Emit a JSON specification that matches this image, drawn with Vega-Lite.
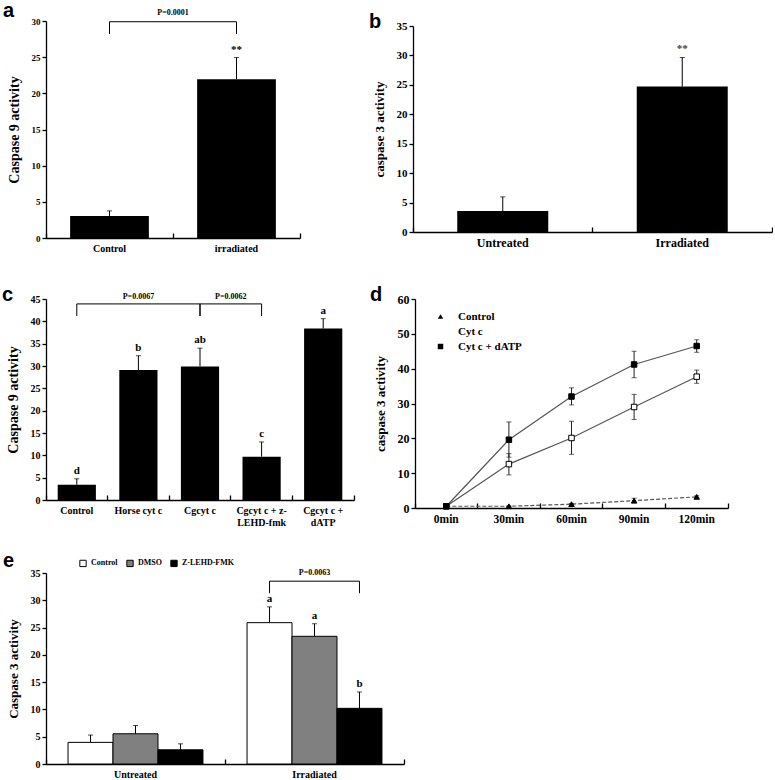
{
  "$schema": "https://vega.github.io/schema/vega-lite/v6.json",
  "background": "white",
  "padding": {"left": 2, "top": 0, "right": 0, "bottom": 0},
  "spacing": 24,
  "resolve": {"scale": {"fill": "independent", "shape": "independent", "strokeDash": "independent"}, "legend": {"fill": "independent", "shape": "independent"}},
  "config": {
    "view": {"stroke": null},
    "axis": {"labelFont": "Liberation Serif", "titleFont": "Liberation Serif", "labelFontWeight": "bold", "titleFontWeight": "bold", "labelColor": "#000", "titleColor": "#000", "domainColor": "#000", "tickColor": "#000", "grid": false, "domainWidth": 1.3, "tickWidth": 1.3},
    "axisY": {"tickSize": 4, "labelPadding": 2, "titlePadding": 10},
    "axisX": {"labelAngle": 0},
    "title": {"font": "Liberation Sans", "fontWeight": "bold", "fontSize": 20, "anchor": "start", "frame": "bounds", "color": "#000", "offset": -12},
    "legend": {"labelFont": "Liberation Serif", "labelFontWeight": "bold", "labelColor": "#000"}
  },
  "datasets": {
    "a": [
      {"group": "Control", "value": 3.05, "upper": 3.75, "label": ""},
      {"group": "irradiated", "value": 21.95, "upper": 24.95, "label": "**"}
    ],
    "aBracket": [
      {"group": "Control", "y": 28.2, "o": 1},
      {"group": "Control", "y": 29.9, "o": 2},
      {"group": "irradiated", "y": 29.9, "o": 3},
      {"group": "irradiated", "y": 28.2, "o": 4}
    ],
    "aP": [{"group": "Control", "y": 30.6, "text": "P=0.0001"}],
    "b": [
      {"group": "Untreated", "value": 3.55, "upper": 5.97, "label": ""},
      {"group": "Irradiated", "value": 24.7, "upper": 29.65, "label": "**"}
    ],
    "c": [
      {"group": "Control", "value": 3.4, "upper": 4.75, "label": "d"},
      {"group": "Horse cyt c", "value": 29.1, "upper": 32.3, "label": "b"},
      {"group": "Cgcyt c", "value": 29.9, "upper": 34.0, "label": "ab"},
      {"group": "Cgcyt c + z-\nLEHD-fmk", "value": 9.7, "upper": 13.0, "label": "c"},
      {"group": "Cgcyt c +\ndATP", "value": 38.4, "upper": 40.6, "label": "a"}
    ],
    "cBracket": [
      {"id": 1, "group": "Control", "y": 41.2, "o": 1},
      {"id": 1, "group": "Control", "y": 43.9, "o": 2},
      {"id": 1, "group": "Cgcyt c", "y": 43.9, "o": 3},
      {"id": 1, "group": "Cgcyt c", "y": 41.2, "o": 4},
      {"id": 2, "group": "Cgcyt c", "y": 41.2, "o": 1},
      {"id": 2, "group": "Cgcyt c", "y": 43.9, "o": 2},
      {"id": 2, "group": "Cgcyt c + z-\nLEHD-fmk", "y": 43.9, "o": 3},
      {"id": 2, "group": "Cgcyt c + z-\nLEHD-fmk", "y": 41.2, "o": 4}
    ],
    "cP1": [{"group": "Horse cyt c", "y": 44.6, "text": "P=0.0067"}],
    "cP2": [{"group": "Cgcyt c", "y": 44.6, "text": "P=0.0062"}],
    "d": [
      {"time": "0min", "series": "Control", "value": 0.5, "lo": 0.5, "hi": 0.5},
      {"time": "30min", "series": "Control", "value": 0.5, "lo": 0.4, "hi": 0.6},
      {"time": "60min", "series": "Control", "value": 1.1, "lo": 0.9, "hi": 1.3},
      {"time": "90min", "series": "Control", "value": 2.1, "lo": 1.5, "hi": 2.8},
      {"time": "120min", "series": "Control", "value": 3.2, "lo": 3.0, "hi": 3.5},
      {"time": "0min", "series": "Cyt c", "value": 0.5, "lo": 0.5, "hi": 0.5},
      {"time": "30min", "series": "Cyt c", "value": 12.6, "lo": 9.5, "hi": 15.6},
      {"time": "60min", "series": "Cyt c", "value": 20.1, "lo": 15.4, "hi": 24.9},
      {"time": "90min", "series": "Cyt c", "value": 29.0, "lo": 25.4, "hi": 32.6},
      {"time": "120min", "series": "Cyt c", "value": 37.7, "lo": 35.8, "hi": 39.6},
      {"time": "0min", "series": "Cyt c + dATP", "value": 0.5, "lo": 0.5, "hi": 0.5},
      {"time": "30min", "series": "Cyt c + dATP", "value": 19.6, "lo": 14.6, "hi": 24.7},
      {"time": "60min", "series": "Cyt c + dATP", "value": 32.0, "lo": 29.6, "hi": 34.5},
      {"time": "90min", "series": "Cyt c + dATP", "value": 41.2, "lo": 37.4, "hi": 45.0},
      {"time": "120min", "series": "Cyt c + dATP", "value": 46.5, "lo": 44.7, "hi": 48.3}
    ],
    "e": [
      {"cond": "Untreated", "treat": "Control", "value": 3.96, "upper": 5.3, "label": ""},
      {"cond": "Untreated", "treat": "DMSO", "value": 5.54, "upper": 7.06, "label": ""},
      {"cond": "Untreated", "treat": "Z-LEHD-FMK", "value": 2.6, "upper": 3.7, "label": ""},
      {"cond": "Irradiated", "treat": "Control", "value": 25.9, "upper": 28.8, "label": "a"},
      {"cond": "Irradiated", "treat": "DMSO", "value": 23.4, "upper": 25.7, "label": "a"},
      {"cond": "Irradiated", "treat": "Z-LEHD-FMK", "value": 10.2, "upper": 13.2, "label": "b"}
    ],
    "eBracket": [
      {"cond": "Irradiated", "treat": "Control", "y": 31.3, "o": 1},
      {"cond": "Irradiated", "treat": "Control", "y": 33.5, "o": 2},
      {"cond": "Irradiated", "treat": "Z-LEHD-FMK", "y": 33.5, "o": 3},
      {"cond": "Irradiated", "treat": "Z-LEHD-FMK", "y": 31.3, "o": 4}
    ],
    "eP": [{"cond": "Irradiated", "treat": "DMSO", "y": 34.2, "text": "P=0.0063"}]
  },
  "vconcat": [
    {
      "vconcat": [
        {
          "hconcat": [
            {
              "width": 254, "height": 217,
              "title": {"text": "a", "dx": -4},
              "data": {"name": "a"},
              "encoding": {
                "x": {"field": "group", "type": "nominal", "scale": {"domain": ["Control", "irradiated"], "paddingInner": 0, "paddingOuter": 0},
                  "axis": {"title": null, "labelFontSize": 10, "tickSize": -5, "bandPosition": 1, "tickExtra": true, "labelPadding": 10}}
              },
              "layer": [
                {"mark": {"type": "bar", "fill": "black", "width": {"band": 0.62}},
                 "encoding": {"y": {"field": "value", "type": "quantitative", "scale": {"domain": [0, 30], "nice": false},
                   "axis": {"title": "Caspase 9 activity", "values": [0, 5, 10, 15, 20, 25, 30], "titleFontSize": 14, "labelFontSize": 9}}}},
                {"mark": {"type": "rule", "color": "black", "strokeWidth": 1}, "encoding": {"y": {"field": "value", "type": "quantitative", "axis": {"title": "Caspase 9 activity", "values": [0, 5, 10, 15, 20, 25, 30], "titleFontSize": 14, "labelFontSize": 9}}, "y2": {"field": "upper"}}},
                {"mark": {"type": "tick", "color": "black", "size": 5, "thickness": 1}, "encoding": {"y": {"field": "upper", "type": "quantitative", "axis": {"title": "Caspase 9 activity", "values": [0, 5, 10, 15, 20, 25, 30], "titleFontSize": 14, "labelFontSize": 9}}}},
                {"mark": {"type": "text", "font": "Liberation Serif", "fontWeight": "bold", "fontSize": 11, "baseline": "bottom", "dy": -3},
                 "encoding": {"y": {"field": "upper", "type": "quantitative", "axis": {"title": "Caspase 9 activity", "values": [0, 5, 10, 15, 20, 25, 30], "titleFontSize": 14, "labelFontSize": 9}}, "text": {"field": "label"}}},
                {"data": {"name": "aBracket"}, "mark": {"type": "line", "color": "black", "strokeWidth": 1},
                 "encoding": {"y": {"field": "y", "type": "quantitative", "axis": {"title": "Caspase 9 activity", "values": [0, 5, 10, 15, 20, 25, 30], "titleFontSize": 14, "labelFontSize": 9}}, "order": {"field": "o"}}},
                {"data": {"name": "aP"}, "mark": {"type": "text", "font": "Liberation Serif", "fontWeight": "bold", "fontSize": 8, "baseline": "bottom"},
                 "encoding": {"x": {"field": "group", "type": "nominal", "bandPosition": 1}, "y": {"field": "y", "type": "quantitative", "axis": {"title": "Caspase 9 activity", "values": [0, 5, 10, 15, 20, 25, 30], "titleFontSize": 14, "labelFontSize": 9}}, "text": {"field": "text"}}}
              ]
            },
            {
              "width": 359, "height": 206,
              "title": {"text": "b", "dx": -4},
              "data": {"name": "b"},
              "encoding": {
                "x": {"field": "group", "type": "nominal", "scale": {"domain": ["Untreated", "Irradiated"], "paddingInner": 0, "paddingOuter": 0},
                  "axis": {"title": null, "labelFontSize": 12, "tickSize": -5, "bandPosition": 1, "tickExtra": true, "labelPadding": 10}}
              },
              "layer": [
                {"mark": {"type": "bar", "fill": "black", "width": {"band": 0.507}},
                 "encoding": {"y": {"field": "value", "type": "quantitative", "scale": {"domain": [0, 35], "nice": false},
                   "axis": {"title": "caspase 3 activity", "values": [0, 5, 10, 15, 20, 25, 30, 35], "titleFontSize": 13, "labelFontSize": 11}}}},
                {"mark": {"type": "rule", "color": "black", "strokeWidth": 1}, "encoding": {"y": {"field": "value", "type": "quantitative", "axis": {"title": "caspase 3 activity", "values": [0, 5, 10, 15, 20, 25, 30, 35], "titleFontSize": 13, "labelFontSize": 11}}, "y2": {"field": "upper"}}},
                {"mark": {"type": "tick", "color": "black", "size": 5, "thickness": 1}, "encoding": {"y": {"field": "upper", "type": "quantitative", "axis": {"title": "caspase 3 activity", "values": [0, 5, 10, 15, 20, 25, 30, 35], "titleFontSize": 13, "labelFontSize": 11}}}},
                {"mark": {"type": "text", "font": "Liberation Serif", "fontWeight": "bold", "fontSize": 11, "baseline": "bottom", "dy": -3, "color": "#444"},
                 "encoding": {"y": {"field": "upper", "type": "quantitative", "axis": {"title": "caspase 3 activity", "values": [0, 5, 10, 15, 20, 25, 30, 35], "titleFontSize": 13, "labelFontSize": 11}}, "text": {"field": "label"}}}
              ]
            }
          ],
          "spacing": 68, "center": true,
          "resolve": {"scale": {"fill": "independent", "shape": "independent", "strokeDash": "independent"}, "legend": {"fill": "independent", "shape": "independent"}}
        },
        {
          "hconcat": [
            {
              "width": 308, "height": 201,
              "title": {"text": "c", "dx": -4},
              "data": {"name": "c"},
              "encoding": {
                "x": {"field": "group", "type": "nominal", "scale": {"domain": ["Control", "Horse cyt c", "Cgcyt c", "Cgcyt c + z-\nLEHD-fmk", "Cgcyt c +\ndATP"], "paddingInner": 0, "paddingOuter": 0},
                  "axis": {"title": null, "labelFontSize": 10, "tickSize": -5, "bandPosition": 1, "tickExtra": true, "labelPadding": 10, "labelExpr": "split(datum.label, '\\n')", "labelBaseline": "top"}}
              },
              "layer": [
                {"mark": {"type": "bar", "fill": "black", "width": {"band": 0.62}},
                 "encoding": {"y": {"field": "value", "type": "quantitative", "scale": {"domain": [0, 45], "nice": false},
                   "axis": {"title": "Caspase 9 activity", "values": [0, 5, 10, 15, 20, 25, 30, 35, 40, 45], "titleFontSize": 14, "labelFontSize": 10}}}},
                {"mark": {"type": "rule", "color": "black", "strokeWidth": 1}, "encoding": {"y": {"field": "value", "type": "quantitative", "axis": {"title": "Caspase 9 activity", "values": [0, 5, 10, 15, 20, 25, 30, 35, 40, 45], "titleFontSize": 14, "labelFontSize": 10}}, "y2": {"field": "upper"}}},
                {"mark": {"type": "tick", "color": "black", "size": 5, "thickness": 1}, "encoding": {"y": {"field": "upper", "type": "quantitative", "axis": {"title": "Caspase 9 activity", "values": [0, 5, 10, 15, 20, 25, 30, 35, 40, 45], "titleFontSize": 14, "labelFontSize": 10}}}},
                {"mark": {"type": "text", "font": "Liberation Serif", "fontWeight": "bold", "fontSize": 11, "baseline": "bottom", "dy": -3},
                 "encoding": {"y": {"field": "upper", "type": "quantitative", "axis": {"title": "Caspase 9 activity", "values": [0, 5, 10, 15, 20, 25, 30, 35, 40, 45], "titleFontSize": 14, "labelFontSize": 10}}, "text": {"field": "label"}}},
                {"data": {"name": "cBracket"}, "mark": {"type": "line", "color": "black", "strokeWidth": 1},
                 "encoding": {"y": {"field": "y", "type": "quantitative", "axis": {"title": "Caspase 9 activity", "values": [0, 5, 10, 15, 20, 25, 30, 35, 40, 45], "titleFontSize": 14, "labelFontSize": 10}}, "detail": {"field": "id"}, "order": {"field": "o"}}},
                {"data": {"name": "cP1"}, "mark": {"type": "text", "font": "Liberation Serif", "fontWeight": "bold", "fontSize": 8, "baseline": "bottom"},
                 "encoding": {"y": {"field": "y", "type": "quantitative", "axis": {"title": "Caspase 9 activity", "values": [0, 5, 10, 15, 20, 25, 30, 35, 40, 45], "titleFontSize": 14, "labelFontSize": 10}}, "text": {"field": "text"}}},
                {"data": {"name": "cP2"}, "mark": {"type": "text", "font": "Liberation Serif", "fontWeight": "bold", "fontSize": 8, "baseline": "bottom"},
                 "encoding": {"x": {"field": "group", "type": "nominal", "bandPosition": 1}, "y": {"field": "y", "type": "quantitative", "axis": {"title": "Caspase 9 activity", "values": [0, 5, 10, 15, 20, 25, 30, 35, 40, 45], "titleFontSize": 14, "labelFontSize": 10}}, "text": {"field": "text"}}}
              ]
            },
            {
              "width": 313, "height": 209,
              "title": {"text": "d", "dx": -4},
              "data": {"name": "d"},
              "encoding": {
                "x": {"field": "time", "type": "nominal", "scale": {"domain": ["0min", "30min", "60min", "90min", "120min"], "paddingInner": 0, "paddingOuter": 0},
                  "axis": {"title": null, "labelFontSize": 11.5, "tickSize": -5, "bandPosition": 1, "tickExtra": true, "labelPadding": 10}}
              },
              "layer": [
                {"transform": [{"filter": "datum.series == 'Control'"}],
                 "mark": {"type": "line", "color": "#555", "strokeWidth": 1.2, "strokeDash": [4, 2]},
                 "encoding": {"y": {"field": "value", "type": "quantitative", "scale": {"domain": [0, 60], "nice": false},
                   "axis": {"title": "caspase 3 activity", "values": [0, 10, 20, 30, 40, 50, 60], "titleFontSize": 13, "labelFontSize": 12}}}},
                {"transform": [{"filter": "datum.series != 'Control'"}],
                 "mark": {"type": "line", "color": "#555", "strokeWidth": 1.2},
                 "encoding": {"y": {"field": "value", "type": "quantitative", "axis": {"title": "caspase 3 activity", "values": [0, 10, 20, 30, 40, 50, 60], "titleFontSize": 13, "labelFontSize": 12}},
                   "detail": {"field": "series"}}},
                {"mark": {"type": "rule", "color": "#222", "strokeWidth": 1}, "encoding": {"y": {"field": "lo", "type": "quantitative", "axis": {"title": "caspase 3 activity", "values": [0, 10, 20, 30, 40, 50, 60], "titleFontSize": 13, "labelFontSize": 12}}, "y2": {"field": "hi"}}},
                {"mark": {"type": "tick", "color": "#222", "size": 5, "thickness": 1}, "encoding": {"y": {"field": "lo", "type": "quantitative", "axis": {"title": "caspase 3 activity", "values": [0, 10, 20, 30, 40, 50, 60], "titleFontSize": 13, "labelFontSize": 12}}}},
                {"mark": {"type": "tick", "color": "#222", "size": 5, "thickness": 1}, "encoding": {"y": {"field": "hi", "type": "quantitative", "axis": {"title": "caspase 3 activity", "values": [0, 10, 20, 30, 40, 50, 60], "titleFontSize": 13, "labelFontSize": 12}}}},
                {"mark": {"type": "point", "filled": false, "color": "black", "size": 30, "strokeWidth": 1, "opacity": 1},
                 "encoding": {"y": {"field": "value", "type": "quantitative", "axis": {"title": "caspase 3 activity", "values": [0, 10, 20, 30, 40, 50, 60], "titleFontSize": 13, "labelFontSize": 12}},
                   "shape": {"field": "series", "type": "nominal", "scale": {"domain": ["Control", "Cyt c", "Cyt c + dATP"], "range": ["triangle-up", "square", "square"]},
                     "legend": {"title": null, "orient": "none", "legendX": 20, "legendY": 12, "labelFontSize": 11, "labelOffset": 12, "symbolStrokeColor": "black", "symbolStrokeWidth": 1, "symbolSize": 30, "rowPadding": 3}},
                   "fill": {"field": "series", "type": "nominal", "scale": {"domain": ["Control", "Cyt c", "Cyt c + dATP"], "range": ["black", "white", "black"]},
                     "legend": {"title": null, "orient": "none", "legendX": 20, "legendY": 12, "labelFontSize": 11, "labelOffset": 12, "symbolStrokeColor": "black", "symbolStrokeWidth": 1, "symbolSize": 30, "rowPadding": 3}}}}
              ]
            }
          ],
          "spacing": 15,
          "resolve": {"scale": {"fill": "independent", "shape": "independent", "strokeDash": "independent"}, "legend": {"fill": "independent", "shape": "independent"}}
        }
      ],
      "spacing": 31,
      "resolve": {"scale": {"fill": "independent", "shape": "independent", "strokeDash": "independent"}, "legend": {"fill": "independent", "shape": "independent"}}
    },
    {
      "width": 358, "height": 191,
      "title": {"text": "e", "dx": -4},
      "data": {"name": "e"},
      "encoding": {
        "x": {"field": "cond", "type": "nominal", "scale": {"domain": ["Untreated", "Irradiated"], "paddingInner": 0, "paddingOuter": 0},
          "axis": {"title": null, "labelFontSize": 10, "tickSize": -5, "bandPosition": 1, "tickExtra": true, "labelPadding": 10}},
        "xOffset": {"field": "treat", "type": "nominal", "scale": {"domain": ["Control", "DMSO", "Z-LEHD-FMK"], "paddingInner": 0, "paddingOuter": 0.49}}
      },
      "layer": [
        {"mark": {"type": "bar", "stroke": "black", "strokeWidth": 1},
         "encoding": {"y": {"field": "value", "type": "quantitative", "scale": {"domain": [0, 35], "nice": false},
           "axis": {"title": "Caspase 3 activity", "values": [0, 5, 10, 15, 20, 25, 30, 35], "titleFontSize": 13, "labelFontSize": 10}},
           "fill": {"field": "treat", "type": "nominal", "scale": {"domain": ["Control", "DMSO", "Z-LEHD-FMK"], "range": ["white", "#808080", "black"]},
             "legend": {"title": null, "orient": "none", "legendX": 33, "legendY": -14, "direction": "horizontal", "symbolType": "square", "symbolStrokeColor": "black", "symbolStrokeWidth": 1, "symbolSize": 40, "labelFontSize": 8, "columnPadding": 6}}}},
        {"mark": {"type": "rule", "color": "black", "strokeWidth": 1}, "encoding": {"y": {"field": "value", "type": "quantitative", "axis": {"title": "Caspase 3 activity", "values": [0, 5, 10, 15, 20, 25, 30, 35], "titleFontSize": 13, "labelFontSize": 10}}, "y2": {"field": "upper"}}},
        {"mark": {"type": "tick", "color": "black", "size": 5, "thickness": 1}, "encoding": {"y": {"field": "upper", "type": "quantitative", "axis": {"title": "Caspase 3 activity", "values": [0, 5, 10, 15, 20, 25, 30, 35], "titleFontSize": 13, "labelFontSize": 10}}}},
        {"mark": {"type": "text", "font": "Liberation Serif", "fontWeight": "bold", "fontSize": 11, "baseline": "bottom", "dy": -3},
         "encoding": {"y": {"field": "upper", "type": "quantitative", "axis": {"title": "Caspase 3 activity", "values": [0, 5, 10, 15, 20, 25, 30, 35], "titleFontSize": 13, "labelFontSize": 10}}, "text": {"field": "label"}}},
        {"data": {"name": "eBracket"}, "mark": {"type": "line", "color": "black", "strokeWidth": 1},
         "encoding": {"y": {"field": "y", "type": "quantitative", "axis": {"title": "Caspase 3 activity", "values": [0, 5, 10, 15, 20, 25, 30, 35], "titleFontSize": 13, "labelFontSize": 10}}, "order": {"field": "o"}}},
        {"data": {"name": "eP"}, "mark": {"type": "text", "font": "Liberation Serif", "fontWeight": "bold", "fontSize": 8, "baseline": "bottom"},
         "encoding": {"y": {"field": "y", "type": "quantitative", "axis": {"title": "Caspase 3 activity", "values": [0, 5, 10, 15, 20, 25, 30, 35], "titleFontSize": 13, "labelFontSize": 10}}, "text": {"field": "text"}}}
      ]
    }
  ]
}
